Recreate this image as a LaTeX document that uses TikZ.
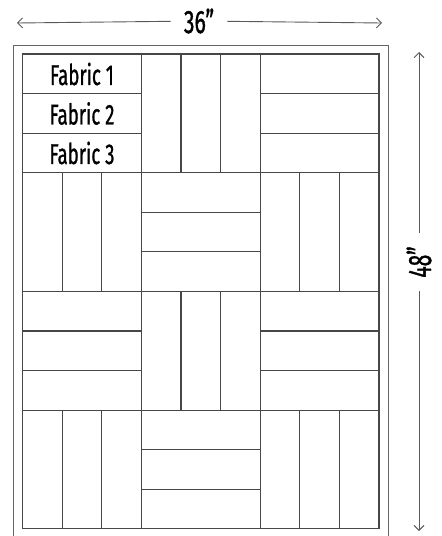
\documentclass[tikz,border=0pt]{standalone}
\usepackage{fontspec}
\setmainfont{Fira Sans}[AutoFakeBold=1.2]
\usetikzlibrary{arrows.meta}
\newcommand{\handtxt}[1]{\scalebox{0.85}[1.3]{\bfseries #1}}
\begin{document}
\begin{tikzpicture}[x=1pt,y=-1pt,
  frame/.style={draw=black!60, line width=1pt},
  blockline/.style={draw=black!72, line width=1.2pt},
  dim/.style={draw=black!65, line width=0.9pt, -{Straight Barb[length=5pt,width=10pt]}},
  label/.style={font=\fontsize{22}{22}\selectfont, text=black, inner sep=0pt},
  dimlabel/.style={font=\fontsize{25}{25}\selectfont, text=black, inner xsep=13pt, inner ysep=2pt}]
\useasboundingbox (0,0) rectangle (442,536);
\clip (0,0) rectangle (442,536);
% outer border (runs off the bottom)
\draw[frame] (13.5,45) rectangle (388,560);
% blocks
\foreach \r in {0,1,2,3}{
  \foreach \c in {0,1,2}{
    \pgfmathsetmacro{\xa}{22.5+\c*118.8}
    \pgfmathsetmacro{\ya}{54+\r*118.7}
    \pgfmathtruncatemacro{\parity}{mod(\r+\c,2)}
    \draw[blockline] (\xa,\ya) rectangle ++(118.8,118.7);
    \ifnum\parity=0
      \draw[blockline] (\xa,\ya+39.57) -- ++(118.8,0);
      \draw[blockline] (\xa,\ya+79.13) -- ++(118.8,0);
    \else
      \draw[blockline] (\xa+39.6,\ya) -- ++(0,118.7);
      \draw[blockline] (\xa+79.2,\ya) -- ++(0,118.7);
    \fi
  }
}
% fabric labels
\node[label] (f1) at (82,74) {\handtxt{Fabric 1}};
\node[label] (f2) at (82,113.5) {\handtxt{Fabric 2}};
\node[label] (f3) at (82,153) {\handtxt{Fabric 3}};
% width dimension
\coordinate (wl) at (17,23);
\coordinate (wr) at (382,23);
\node[dimlabel] (w) at (199,21) {\handtxt{36"}};
\draw[dim] (w) -- (wl);
\draw[dim] (w) -- (wr);
% height dimension
\coordinate (ht) at (419,52);
\coordinate (hb) at (419,531);
\node[dimlabel, rotate=90] (h) at (419,262) {\handtxt{48"}};
\draw[dim] (h) -- (ht);
\draw[dim] (h) -- (hb);
\end{tikzpicture}
\end{document}
